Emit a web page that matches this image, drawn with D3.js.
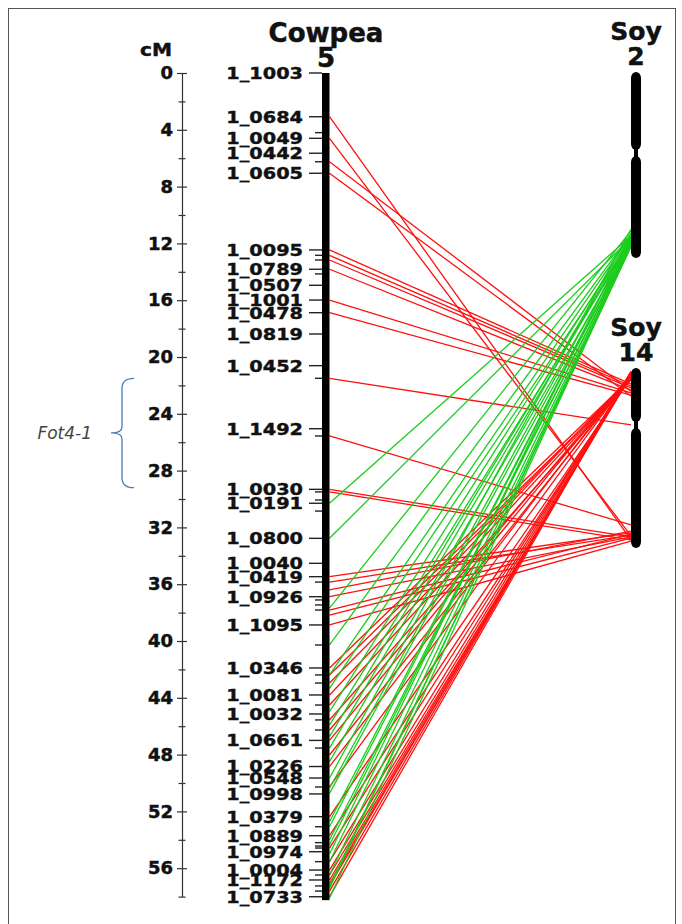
<!DOCTYPE html>
<html>
<head>
<meta charset="utf-8">
<script src="https://cdn.jsdelivr.net/npm/d3@7"></script>
<style>
  html, body { margin: 0; padding: 0; background: #fff; }
  svg { display: block; font-family: "DejaVu Sans", Verdana, sans-serif; }
</style>
</head>
<body>
<svg id="chart" width="682" height="924"></svg>
<script>
// Cowpea linkage group 5: labelled SNP markers and their map positions (cM)
const markerNames = [
  "1_1003","1_0684","1_0049","1_0442","1_0605","1_0095","1_0789","1_0507",
  "1_1001","1_0478","1_0819","1_0452","1_1492","1_0030","1_0191","1_0800",
  "1_0040","1_0419","1_0926","1_1095","1_0346","1_0081","1_0032","1_0661",
  "1_0226","1_0548","1_0998","1_0379","1_0889","1_0974","1_0004","1_1172","1_0733"
];
const markerCM = [
  0, 3.08, 4.6, 5.65, 7.06, 12.46, 13.82, 14.95,
  15.99, 16.88, 18.38, 20.61, 25.05, 29.32, 30.3, 32.77,
  34.53, 35.47, 36.88, 38.87, 41.9, 43.8, 45.14, 47.0,
  48.84, 49.65, 50.77, 52.37, 53.71, 54.84, 56.13, 56.83, 58.01
];
// further markers on the same group drawn without labels (cM)
const unlabelledCM = [
  4.2, 6.25, 12.84, 13.17, 14.15, 21.5, 25.56, 29.5, 30.07, 30.85, 35.85,
  37.11, 37.46, 37.82, 40.28, 42.39, 42.96, 44.51, 45.56, 46.27, 47.54,
  50.28, 53.08, 54.2, 54.44, 54.58, 55.54, 56.48, 57.25, 57.61
];

// map scale ticks (cM)
const majorTicks = [0, 4, 8, 12, 16, 20, 24, 28, 32, 36, 40, 44, 48, 52, 56];
const minorTicks = [2, 6, 10, 14, 18, 22, 26, 30, 34, 38, 42, 46, 50, 54, 58];

// Fot4-1 QTL interval (cM)
const qtlName = "Fot4-1";
const qtlStart = 21.5;
const qtlEnd = 29.2;

// soybean chromosomes: name, length and centromere position (Mb)
const soyNames = ["2", "14"];
const soyLength = [51.7, 49.0];
const soyCentromere = [22.5, 15.5];

// syntenic links: cowpea position (cM) -> soybean chromosome and position (Mb)
const linkCM = [
  3.08, 4.6, 6.25, 7.06, 12.46, 12.84, 13.17, 13.82, 15.99, 16.88,
  21.5, 25.56, 29.32, 29.5, 35.47, 35.85, 36.4, 36.88, 37.82, 38.17, 38.87,
  41.9, 42.39, 42.96, 43.8, 44.51, 45.56, 46.27, 47.0, 48.03, 48.84, 50.28,
  52.37, 53.71, 54.58, 55.54, 56.13, 56.48, 56.83, 57.06, 57.25, 57.61, 58.0,
  30.3, 32.77, 37.68, 40.28, 42.39, 43.33, 44.98, 45.92, 46.74, 47.54, 48.5,
  49.65, 50.37, 50.73, 52.73, 53.08, 54.01, 54.37, 55.0, 55.54, 56.48,
  57.25, 57.42, 58.12
];
const linkSoy = [
  "14","14","14","14","14","14","14","14","14","14",
  "14","14","14","14","14","14","14","14","14","14","14",
  "14","14","14","14","14","14","14","14","14","14","14",
  "14","14","14","14","14","14","14","14","14","14","14",
  "2","2","2","2","2","2","2","2","2","2","2",
  "2","2","2","2","2","2","2","2","2","2",
  "2","2","2"
];
const linkMb = [
  46.8, 45.7, 6.3, 7.6, 4.4, 4.9, 5.4, 6.0, 6.8, 7.4,
  15.5, 42.7, 46.0, 46.8, 44.9, 45.5, 44.4, 46.0, 45.2, 46.3, 47.1,
  2.7, 3.3, 2.9, 2.2, 2.4, 3.0, 1.8, 1.9, 2.5, 1.6, 2.1,
  2.7, 2.2, 1.7, 1.2, 1.4, 2.0, 1.5, 1.9, 0.9, 1.0, 1.1,
  45.6, 46.1, 44.2, 45.0, 45.3, 46.7, 45.6, 47.2, 46.1, 46.4, 47.8,
  43.7, 46.7, 48.2, 47.2, 47.0, 48.0, 47.5, 44.8, 48.1, 48.3,
  48.6, 47.9, 48.3
];

const links = linkCM.map((cm, i) => ({ cm, soy: linkSoy[i], mb: linkMb[i] }));

const svg = d3.select("#chart");
const RED = "#ff1010", GREEN = "#1ccc1c";
const INK = "#111";

// frame
svg.append("rect")
  .attr("x", 8.5).attr("y", 8.5).attr("width", 667).attr("height", 930)
  .attr("fill", "none").attr("stroke", "#555").attr("stroke-width", 1);

// cowpea map scale
const y = d3.scaleLinear().domain([0, 58]).range([73, 73 + 58 * 14.2]);
const axisX = 182;

const gAxis = svg.append("g").attr("transform", `translate(${axisX},0)`);
gAxis.call(d3.axisLeft(y).tickValues(majorTicks).tickSize(5).tickPadding(4).tickSizeOuter(0));
gAxis.append("g").call(d3.axisRight(y).tickValues(majorTicks).tickSize(5).tickFormat("").tickSizeOuter(0))
  .select(".domain").remove();
gAxis.append("g").call(d3.axisLeft(y).tickValues(minorTicks).tickSize(3.5).tickFormat("").tickSizeOuter(0))
  .select(".domain").remove();
gAxis.append("g").call(d3.axisRight(y).tickValues(minorTicks).tickSize(3.5).tickFormat("").tickSizeOuter(0))
  .select(".domain").remove();
gAxis.selectAll("path,line").attr("stroke", "#333").attr("stroke-width", 1.2);
gAxis.selectAll("text")
  .attr("font-family", "'DejaVu Sans', Verdana, sans-serif")
  .attr("font-size", 18).attr("font-weight", "bold").attr("fill", INK)
  .attr("stroke", INK).attr("stroke-width", 0.45);

svg.append("text").attr("x", 156).attr("y", 56).attr("text-anchor", "middle")
  .attr("font-size", 18).attr("font-weight", "bold").attr("fill", INK)
  .attr("stroke", INK).attr("stroke-width", 0.45)
  .attr("transform", "translate(156,0) scale(1.12,1) translate(-156,0)")
  .text("cM");

// Fot4-1 bracket
const bx = 122, yq0 = y(qtlStart), yq1 = y(qtlEnd), ym = (yq0 + yq1) / 2;
svg.append("path")
  .attr("d", `M${bx + 12},${yq0} Q${bx},${yq0} ${bx},${yq0 + 10} L${bx},${ym - 6} Q${bx},${ym} ${bx - 11},${ym}
             Q${bx},${ym} ${bx},${ym + 6} L${bx},${yq1 - 10} Q${bx},${yq1} ${bx + 12},${yq1}`)
  .attr("fill", "none").attr("stroke", "#4a7ebb").attr("stroke-width", 1.3);
svg.append("text").attr("x", 92).attr("y", ym).attr("dy", "0.35em")
  .attr("text-anchor", "end").attr("font-family", "'DejaVu Sans', Verdana, sans-serif")
  .attr("font-style", "italic").attr("font-size", 17).attr("fill", "#444")
  .text(qtlName);

// soybean chromosome scales
const soyX = 631, soyW = 10;
const soyTop = { "2": 72, "14": 368 };
const soyBottom = { "2": 258, "14": 548 };
const soyScale = {};
soyNames.forEach((n, i) => {
  soyScale[n] = d3.scaleLinear().domain([0, soyLength[i]]).range([soyTop[n], soyBottom[n]]);
});

// syntenic links
const cowRight = 329.5;
svg.append("g").selectAll("line").data(links).join("line")
  .attr("x1", cowRight).attr("y1", d => y(d.cm))
  .attr("x2", soyX).attr("y2", d => soyScale[d.soy](d.mb))
  .attr("stroke", d => d.soy === "2" ? GREEN : RED)
  .attr("stroke-width", 1.3);

// cowpea chromosome 5
svg.append("rect").attr("x", 322).attr("y", y(0)).attr("width", 7.5)
  .attr("height", y(58.25) - y(0)).attr("fill", "#000");

const allMarkers = markerCM.map((cm, i) => ({ cm, name: markerNames[i] }))
  .concat(unlabelledCM.map(cm => ({ cm, name: null })));
svg.append("g").selectAll("line").data(allMarkers).join("line")
  .attr("x1", d => d.name ? 309 : 315).attr("x2", 322)
  .attr("y1", d => y(d.cm)).attr("y2", d => y(d.cm))
  .attr("stroke", "#222").attr("stroke-width", 1.4);

svg.append("g").selectAll("text").data(allMarkers.filter(d => d.name)).join("text")
  .attr("transform", d => `translate(303,${y(d.cm)}) scale(1.17,1)`)
  .attr("text-anchor", "end").attr("dy", "0.36em")
  .attr("font-size", 16.5).attr("font-weight", "bold").attr("fill", INK)
  .attr("stroke", INK).attr("stroke-width", 0.4)
  .text(d => d.name);

// titles
function title(x, y0, lines, size) {
  lines.forEach((t, i) => {
    svg.append("text").attr("x", x).attr("y", y0 + i * 25).attr("text-anchor", "middle")
      .attr("font-size", size).attr("font-weight", "bold").attr("fill", INK)
      .attr("stroke", INK).attr("stroke-width", 0.5).text(t);
  });
}
title(326, 42, ["Cowpea", "5"], 26);
title(636, 40, ["Soy", "2"], 25);
title(636, 336, ["Soy", "14"], 25);

// soybean chromosomes with centromere constriction
soyNames.forEach((n, i) => {
  const s = soyScale[n];
  const top = s(0), bot = s(soyLength[i]), cen = s(soyCentromere[i]);
  const g = svg.append("g").attr("fill", "#000");
  g.append("rect").attr("x", soyX).attr("y", top).attr("width", soyW)
    .attr("height", cen - 3 - top).attr("rx", 5).attr("ry", 6);
  g.append("rect").attr("x", soyX).attr("y", cen + 3).attr("width", soyW)
    .attr("height", bot - cen - 3).attr("rx", 5).attr("ry", 6);
  g.append("rect").attr("x", soyX + 3).attr("y", cen - 6).attr("width", soyW - 6).attr("height", 12);
});
</script>
</body>
</html>
